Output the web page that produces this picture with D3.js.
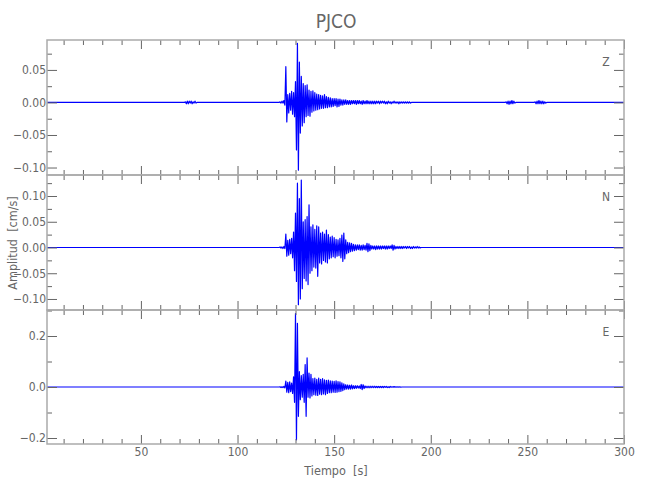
<!DOCTYPE html>
<html><head><meta charset="utf-8">
<script src="https://cdn.jsdelivr.net/npm/d3@7"></script>
<style>
body{margin:0;background:#fff}
text{font-family:"DejaVu Sans Condensed","DejaVu Sans","Liberation Sans Narrow",sans-serif;font-stretch:condensed;fill:#666}
</style>
</head><body>
<svg id="chart" width="650" height="500"></svg>
<script>
// ---------------- data ----------------
const title = "PJCO";
const xLabel = "Tiempo  [s]";
const yLabel = "Amplitud  [cm/s]";
const components = ["Z", "N", "E"];
const timeDomain = [1.4, 300];
const xMajorTicks = [50, 100, 150, 200, 250, 300];
const xMinorTicks = [10,20,30,40,60,70,80,90,110,120,130,140,160,170,180,190,210,220,230,240,260,270,280,290];
const sampleInterval = 0.5; // s

const yMajorZ = [-0.10, -0.05, 0.00, 0.05];
const yMinorZ = [-0.075, -0.025, 0.025, 0.075];
const yMajorN = [-0.10, -0.05, 0.00, 0.05, 0.10];
const yMinorN = [-0.075, -0.025, 0.025, 0.075, 0.125];
const yMajorE = [-0.2, 0.0, 0.2];
const yMinorE = [-0.1, 0.1, 0.3];

// Z component: event window, start 122 s
const zEventStart = 122;
const zEvent = [0.001,-0.001,0.002,-0.001,0.003,-0.004,
0.055,-0.030,0.012,-0.016,0.014,-0.012,0.017,-0.018,0.015,-0.022,
0.032,-0.073,0.091,-0.104,0.062,-0.047,0.040,-0.036,0.029,-0.031,
0.026,-0.022,0.027,-0.020,0.019,-0.021,0.017,-0.015,0.018,-0.013,
0.015,-0.012,0.013,-0.011,0.012,-0.010,0.011,-0.009,0.010,-0.009,
0.012,-0.008,0.009,-0.008,0.008,-0.007,0.007,-0.007,0.006,-0.006,
0.006,-0.005,0.006,-0.007,0.005,-0.006,0.005,-0.004,0.004,-0.004,
0.004,-0.003,0.004,-0.003,0.003,-0.003,0.003,-0.003,0.003,-0.002,
0.003,-0.002,0.003,-0.003,0.003,-0.002,0.003,-0.002,0.002,-0.003,
0.003,-0.002,0.002,-0.002,0.003,-0.002,0.002,-0.002,0.002,-0.002,
0.002,-0.002,0.002,-0.002,0.002,-0.001,0.002,-0.002,0.002,-0.001,
0.002,-0.001,0.002,-0.002,0.001,-0.002,0.002,-0.001,0.001,-0.002,
0.001,-0.001,0.002,-0.001,0.001,-0.001,0.001,-0.002,0.001,-0.001,
0.001,-0.001,0.001,-0.001,0.001,-0.001,0.001,-0.001,0.001,-0.001];
const zBumpAStart = 73;
const zBumpA = [0.001,-0.002,0.002,-0.002,0.002,-0.001,0.002,-0.002,0.001,-0.001,0.002,-0.001];
const zBumpBStart = 239;
const zBumpB = [0.001,-0.002,0.002,-0.003,0.002,-0.002,0.003,-0.002,0.002,-0.001];
const zBumpCStart = 254;
const zBumpC = [0.001,-0.002,0.002,-0.002,0.003,-0.002,0.002,-0.002,0.002,-0.002,0.001,-0.001];

// N component
const nEventStart = 122;
const nEvent = [0.001,-0.001,0.001,-0.002,0.002,-0.002,
0.026,-0.017,0.014,-0.015,0.016,-0.012,0.018,-0.020,0.030,-0.045,
0.067,-0.066,0.125,-0.111,0.095,-0.100,0.131,-0.080,0.050,-0.060,
0.054,-0.065,0.060,-0.072,0.083,-0.050,0.040,-0.045,0.044,-0.038,
0.035,-0.040,0.042,-0.056,0.040,-0.030,0.028,-0.032,0.030,-0.025,
0.026,-0.028,0.034,-0.030,0.025,-0.022,0.020,-0.020,0.022,-0.018,
0.019,-0.020,0.016,-0.017,0.015,-0.016,0.018,-0.020,0.024,-0.027,
0.028,-0.022,0.015,-0.012,0.010,-0.010,0.009,-0.008,0.008,-0.007,
0.006,-0.006,0.005,-0.005,0.005,-0.004,0.005,-0.005,0.004,-0.005,
0.005,-0.004,0.004,-0.005,0.008,-0.008,0.007,-0.006,0.004,-0.003,
0.003,-0.003,0.003,-0.004,0.003,-0.003,0.003,-0.003,0.003,-0.003,
0.003,-0.002,0.003,-0.003,0.003,-0.003,0.003,-0.002,0.003,-0.002,
0.005,-0.005,0.004,-0.003,0.002,-0.002,0.002,-0.002,0.002,-0.002,
0.002,-0.002,0.002,-0.001,0.002,-0.002,0.002,-0.001,0.002,-0.002,
0.001,-0.002,0.002,-0.001,0.001,-0.001,0.002,-0.001,0.001,-0.001];

// E component
const eEventStart = 122;
const eEvent = [0.001,-0.002,0.001,-0.002,0.002,-0.003,
0.023,-0.020,0.018,-0.022,0.020,-0.018,0.015,-0.025,0.040,-0.060,
0.288,-0.207,0.250,-0.115,0.060,-0.050,0.045,-0.040,0.050,-0.060,
0.088,-0.115,0.114,-0.040,0.055,-0.043,0.050,-0.035,0.033,-0.030,
0.035,-0.032,0.030,-0.033,0.035,-0.028,0.030,-0.030,0.033,-0.027,
0.028,-0.030,0.026,-0.025,0.027,-0.022,0.024,-0.022,0.023,-0.020,
0.022,-0.021,0.024,-0.020,0.021,-0.018,0.020,-0.017,0.016,-0.014,
0.012,-0.010,0.009,-0.008,0.008,-0.008,0.007,-0.008,0.008,-0.007,
0.005,-0.006,0.005,-0.005,0.005,-0.004,0.004,-0.006,0.010,-0.010,
0.009,-0.006,0.004,-0.003,0.003,-0.003,0.003,-0.003,0.003,-0.002,
0.003,-0.002,0.003,-0.002,0.002,-0.002,0.002,-0.002,0.002,-0.002,
0.002,-0.002,0.002,-0.001,0.002,-0.002,0.001,-0.002,0.002,-0.001,
0.001,-0.001,0.002,-0.001,0.001,-0.001,0.001,-0.001,0.001,-0.001];

// ---------------- build series ----------------
function buildSeries(segments) {
  const pts = [[timeDomain[0], 0]];
  segments.forEach(s => {
    pts.push([s.start - sampleInterval, 0]);
    s.values.forEach((v, i) => pts.push([s.start + i * sampleInterval, v]));
    pts.push([s.start + s.values.length * sampleInterval, 0]);
  });
  pts.push([timeDomain[1], 0]);
  return pts;
}

const panels = [
  {name: components[0], top: 40, bottom: 175, domain: [-0.1115, 0.096], major: yMajorZ, minor: yMinorZ, fmt: ".2f",
   series: buildSeries([{start: zBumpAStart, values: zBumpA}, {start: zEventStart, values: zEvent}, {start: zBumpBStart, values: zBumpB}, {start: zBumpCStart, values: zBumpC}])},
  {name: components[1], top: 175, bottom: 310, domain: [-0.1214, 0.1408], major: yMajorN, minor: yMinorN, fmt: ".2f",
   series: buildSeries([{start: nEventStart, values: nEvent}])},
  {name: components[2], top: 310, bottom: 444, domain: [-0.2235, 0.302], major: yMajorE, minor: yMinorE, fmt: ".1f",
   series: buildSeries([{start: eEventStart, values: eEvent}])}
];

// ---------------- draw ----------------
const svg = d3.select("#chart");
const left = 47, right = 624;
const x = d3.scaleLinear().domain(timeDomain).range([left, right]);
const fmtMinus = f => v => d3.format(f)(v).replace("-", "\u2212");

const defs = svg.append("defs");

panels.forEach((p, i) => {
  const y = d3.scaleLinear().domain(p.domain).range([p.bottom, p.top]);
  const g = svg.append("g");

  defs.append("clipPath").attr("id", "clip" + i)
    .append("rect").attr("x", left).attr("y", p.top - 8).attr("width", right - left).attr("height", p.bottom - p.top + 16);

  // trace
  g.append("path")
    .datum(p.series)
    .attr("clip-path", `url(#clip${i})`)
    .attr("fill", "none")
    .attr("stroke", "#0000ff")
    .attr("stroke-width", 1.2)
    .attr("stroke-linejoin", "round")
    .attr("d", d3.line().x(d => x(d[0])).y(d => y(d[1])));

  // left axis
  const la = g.append("g").attr("transform", `translate(${left},0)`)
    .call(d3.axisLeft(y).tickValues(p.major).tickSize(-10).tickFormat(fmtMinus(p.fmt)));
  la.selectAll("text").attr("x", -1).attr("font-size", 12).attr("fill", "#666").attr("font-family", null);
  const lm = g.append("g").attr("transform", `translate(${left},0)`)
    .call(d3.axisLeft(y).tickValues(p.minor.filter(v => v >= p.domain[0] && v <= p.domain[1])).tickSize(-5).tickFormat(""));
  // right axis
  const ra = g.append("g").attr("transform", `translate(${right},0)`)
    .call(d3.axisRight(y).tickValues(p.major).tickSize(-10).tickFormat(""));
  const rm = g.append("g").attr("transform", `translate(${right},0)`)
    .call(d3.axisRight(y).tickValues(p.minor.filter(v => v >= p.domain[0] && v <= p.domain[1])).tickSize(-5).tickFormat(""));
  // top axis
  const ta = g.append("g").attr("transform", `translate(0,${p.top})`)
    .call(d3.axisTop(x).tickValues(xMajorTicks).tickSize(-9).tickFormat(""));
  const tm = g.append("g").attr("transform", `translate(0,${p.top})`)
    .call(d3.axisTop(x).tickValues(xMinorTicks).tickSize(-5).tickFormat(""));
  // bottom axis
  const ba = g.append("g").attr("transform", `translate(0,${p.bottom})`)
    .call(d3.axisBottom(x).tickValues(xMajorTicks).tickSize(-9).tickFormat(i === 2 ? d3.format("d") : ""));
  const bm = g.append("g").attr("transform", `translate(0,${p.bottom})`)
    .call(d3.axisBottom(x).tickValues(xMinorTicks).tickSize(-5).tickFormat(""));
  if (i === 2) {
    ba.selectAll("text").attr("y", 3).attr("dy", "0.71em").attr("font-size", 12).attr("fill", "#666").attr("font-family", null);
  }

  [la, lm, ra, rm, ta, tm, ba, bm].forEach(a => {
    a.select(".domain").remove();
    a.selectAll("line").attr("stroke", "#666").attr("stroke-width", 1);
  });

  // frame
  g.append("rect").attr("x", left).attr("y", p.top).attr("width", right - left).attr("height", p.bottom - p.top)
    .attr("fill", "none").attr("stroke", "#aaa").attr("stroke-width", 1.5);

  // component label
  g.append("text").attr("x", 606).attr("y", p.top + 26).attr("text-anchor", "middle")
    .attr("font-size", 12).text(p.name);
});

// title & axis labels
svg.append("text").attr("x", 336).attr("y", 28).attr("text-anchor", "middle")
  .attr("font-size", 19).attr("fill", "#777").text(title);
svg.append("text").attr("x", 336).attr("y", 475).attr("text-anchor", "middle")
  .attr("font-size", 12.5).attr("xml:space", "preserve").style("white-space", "pre").text(xLabel);
svg.append("text").attr("transform", "translate(17,243) rotate(-90)").attr("text-anchor", "middle")
  .attr("font-size", 12.5).style("white-space", "pre").text(yLabel);
</script>
</body></html>
